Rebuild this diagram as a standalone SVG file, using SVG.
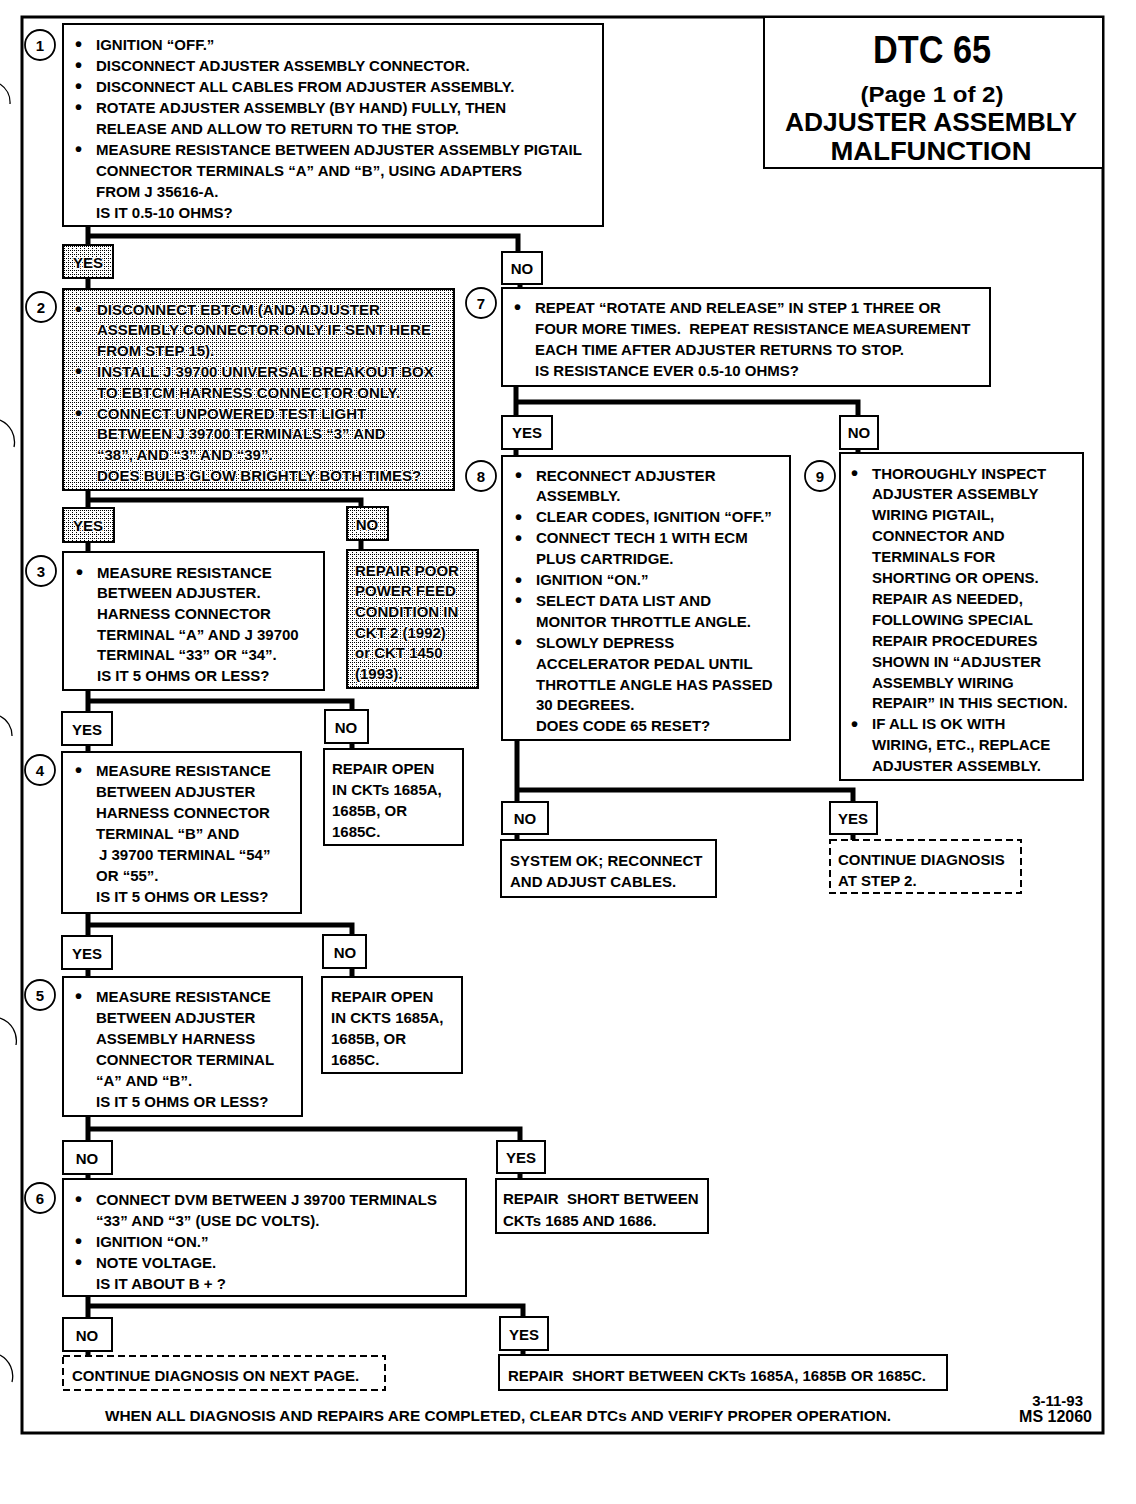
<svg xmlns="http://www.w3.org/2000/svg" width="1136" height="1504" viewBox="0 0 1136 1504">
<defs>
<pattern id="dots" width="4" height="4" patternUnits="userSpaceOnUse"><rect width="4" height="4" fill="#fff"/><rect x="0" y="0" width="1" height="1" fill="#000"/><rect x="2" y="2" width="1" height="1" fill="#000"/><rect x="0" y="2" width="1" height="1" fill="#000"/></pattern>
</defs>
<style>
.box{fill:#fff;stroke:#000;stroke-width:2}
.shade{fill:url(#dots);stroke:#000;stroke-width:2}
.dash{fill:#fff;stroke:#000;stroke-width:2;stroke-dasharray:7 4}
.num{fill:#fff;stroke:#000;stroke-width:1.8}
text{font-family:"Liberation Sans",Arial,sans-serif;font-weight:bold;font-size:15px;fill:#000}
.sh text{stroke:#fff;stroke-width:2.2px;paint-order:stroke;stroke-linejoin:round}
.b{font-size:20px}
.c{text-anchor:middle}
.conn{stroke:#000;stroke-width:5;fill:none}
.hole{stroke:#000;stroke-width:1.3;fill:none}
</style>
<rect width="1136" height="1504" fill="#fff"/>
<g id="frame">
<rect x="22" y="17" width="1081" height="1416" fill="none" stroke="#000" stroke-width="3"/>
<path class="hole" d="M0 84 A22 22 0 0 1 10 104"/>
<path class="hole" d="M0 420 A24 24 0 0 1 14 447"/>
<path class="hole" d="M0 716 A22 22 0 0 1 12 736"/>
<path class="hole" d="M0 1018 A24 24 0 0 1 16 1045"/>
<path class="hole" d="M0 1355 A24 24 0 0 1 12 1382"/>
</g>
<g id="title">
<rect x="764" y="17" width="339" height="151" fill="#fff" stroke="#000" stroke-width="2"/>
<text class="c" x="932" y="63" style="font-size:38px" textLength="118" lengthAdjust="spacingAndGlyphs">DTC 65</text>
<text class="c" x="932" y="102" style="font-size:22px" textLength="143" lengthAdjust="spacingAndGlyphs">(Page 1 of 2)</text>
<text class="c" x="931" y="131" style="font-size:26px" textLength="292" lengthAdjust="spacingAndGlyphs">ADJUSTER ASSEMBLY</text>
<text class="c" x="931" y="160" style="font-size:26px" textLength="201" lengthAdjust="spacingAndGlyphs">MALFUNCTION</text>
</g>
<g id="connectors">
<path class="conn" d="M88 226V245M88 236H518V252M88 278V289M520 284V288"/>
<path class="conn" d="M516 386V416M516 402H858V416M516 449V456M858 449V453"/>
<path class="conn" d="M517 740V802M517 790H853V802M517 834V840M853 834V840"/>
<path class="conn" d="M88 490V508M88 500H361V507M88 542V552M361 540V550"/>
<path class="conn" d="M88 690V712M88 701H352V710M88 745V752M352 743V749"/>
<path class="conn" d="M88 913V936M88 925H352V935M88 969V977M352 968V977"/>
<path class="conn" d="M88 1116V1141M88 1129H520V1141M88 1174V1179M520 1173V1179"/>
<path class="conn" d="M88 1296V1318M88 1306H523V1317M88 1351V1356M523 1350V1355"/>
</g>
<g id="step1">
<rect class="box" x="63" y="24" width="540" height="202"/>
<circle class="num" cx="40" cy="45" r="15"/><text class="c" x="40" y="50.5">1</text>
<text class="b" x="75" y="51">•</text><text x="96" y="49.5">IGNITION “OFF.”</text>
<text class="b" x="75" y="72">•</text><text x="96" y="70.5">DISCONNECT ADJUSTER ASSEMBLY CONNECTOR.</text>
<text class="b" x="75" y="93">•</text><text x="96" y="91.5">DISCONNECT ALL CABLES FROM ADJUSTER ASSEMBLY.</text>
<text class="b" x="75" y="114">•</text><text x="96" y="112.5">ROTATE ADJUSTER ASSEMBLY (BY HAND) FULLY, THEN</text>
<text x="96" y="133.5">RELEASE AND ALLOW TO RETURN TO THE STOP.</text>
<text class="b" x="75" y="156">•</text><text x="96" y="154.5">MEASURE RESISTANCE BETWEEN ADJUSTER ASSEMBLY PIGTAIL</text>
<text x="96" y="175.5">CONNECTOR TERMINALS “A” AND “B”, USING ADAPTERS</text>
<text x="96" y="196.5">FROM J 35616-A.</text>
<text x="96" y="217.5">IS IT 0.5-10 OHMS?</text>
</g>
<g id="label1yes" class="sh"><rect class="shade" x="63" y="245" width="50" height="33"/><text class="c" x="88" y="268">YES</text></g>
<g id="label1no"><rect class="box" x="502" y="252" width="40" height="32"/><text class="c" x="522" y="273.5">NO</text></g>
<g id="step2" class="sh">
<rect class="shade" x="63" y="289" width="391" height="201"/>
<circle class="num" cx="41" cy="307" r="15"/><text class="c" x="41" y="312.5">2</text>
<text class="b" x="75" y="316">•</text><text x="97" y="314.5">DISCONNECT EBTCM (AND ADJUSTER</text>
<text x="97" y="335.3">ASSEMBLY CONNECTOR ONLY IF SENT HERE</text>
<text x="97" y="356.1">FROM STEP 15).</text>
<text class="b" x="75" y="378.4">•</text><text x="97" y="376.9">INSTALL J 39700 UNIVERSAL BREAKOUT BOX</text>
<text x="97" y="397.7">TO EBTCM HARNESS CONNECTOR ONLY.</text>
<text class="b" x="75" y="420">•</text><text x="97" y="418.5">CONNECT UNPOWERED TEST LIGHT</text>
<text x="97" y="439.3">BETWEEN J 39700 TERMINALS “3” AND</text>
<text x="97" y="460.1">“38”, AND “3” AND “39”.</text>
<text x="97" y="480.9">DOES BULB GLOW BRIGHTLY BOTH TIMES?</text>
</g>
<g id="step7">
<rect class="box" x="502" y="288" width="488" height="98"/>
<circle class="num" cx="481" cy="303" r="15"/><text class="c" x="481" y="308.5">7</text>
<text class="b" x="514" y="314">•</text><text x="535" y="312.5">REPEAT “ROTATE AND RELEASE” IN STEP 1 THREE OR</text>
<text x="535" y="333.5">FOUR MORE TIMES.&#160; REPEAT RESISTANCE MEASUREMENT</text>
<text x="535" y="354.5">EACH TIME AFTER ADJUSTER RETURNS TO STOP.</text>
<text x="535" y="375.5">IS RESISTANCE EVER 0.5-10 OHMS?</text>
</g>
<g id="label7yes"><rect class="box" x="502" y="416" width="50" height="33"/><text class="c" x="527" y="438">YES</text></g>
<g id="label7no"><rect class="box" x="840" y="416" width="38" height="33"/><text class="c" x="859" y="438">NO</text></g>
<g id="step8">
<rect class="box" x="502" y="456" width="288" height="284"/>
<circle class="num" cx="481" cy="476" r="15"/><text class="c" x="481" y="481.5">8</text>
<text class="b" x="515" y="482">•</text><text x="536" y="480.5">RECONNECT ADJUSTER</text>
<text x="536" y="501.4">ASSEMBLY.</text>
<text class="b" x="515" y="523.8">•</text><text x="536" y="522.3">CLEAR CODES, IGNITION “OFF.”</text>
<text class="b" x="515" y="544.7">•</text><text x="536" y="543.2">CONNECT TECH 1 WITH ECM</text>
<text x="536" y="564.1">PLUS CARTRIDGE.</text>
<text class="b" x="515" y="586.5">•</text><text x="536" y="585">IGNITION “ON.”</text>
<text class="b" x="515" y="607.4">•</text><text x="536" y="605.9">SELECT DATA LIST AND</text>
<text x="536" y="626.8">MONITOR THROTTLE ANGLE.</text>
<text class="b" x="515" y="649.2">•</text><text x="536" y="647.7">SLOWLY DEPRESS</text>
<text x="536" y="668.6">ACCELERATOR PEDAL UNTIL</text>
<text x="536" y="689.5">THROTTLE ANGLE HAS PASSED</text>
<text x="536" y="710.4">30 DEGREES.</text>
<text x="536" y="731.3">DOES CODE 65 RESET?</text>
</g>
<g id="step9">
<rect class="box" x="840" y="453" width="243" height="327"/>
<circle class="num" cx="820" cy="476" r="15"/><text class="c" x="820" y="481.5">9</text>
<text class="b" x="851" y="480">•</text><text x="872" y="478.5">THOROUGHLY INSPECT</text>
<text x="872" y="499.4">ADJUSTER ASSEMBLY</text>
<text x="872" y="520.3">WIRING PIGTAIL,</text>
<text x="872" y="541.2">CONNECTOR AND</text>
<text x="872" y="562.1">TERMINALS FOR</text>
<text x="872" y="583">SHORTING OR OPENS.</text>
<text x="872" y="603.9">REPAIR AS NEEDED,</text>
<text x="872" y="624.8">FOLLOWING SPECIAL</text>
<text x="872" y="645.7">REPAIR PROCEDURES</text>
<text x="872" y="666.6">SHOWN IN “ADJUSTER</text>
<text x="872" y="687.5">ASSEMBLY WIRING</text>
<text x="872" y="708.4">REPAIR” IN THIS SECTION.</text>
<text class="b" x="851" y="730.8">•</text><text x="872" y="729.3">IF ALL IS OK WITH</text>
<text x="872" y="750.2">WIRING, ETC., REPLACE</text>
<text x="872" y="771.1">ADJUSTER ASSEMBLY.</text>
</g>
<g id="label8no"><rect class="box" x="502" y="802" width="46" height="32"/><text class="c" x="525" y="823.5">NO</text></g>
<g id="label8yes"><rect class="box" x="830" y="802" width="47" height="32"/><text class="c" x="853" y="823.5">YES</text></g>
<g id="systemok">
<rect class="box" x="501" y="840" width="215" height="57"/>
<text x="510" y="865.5">SYSTEM OK; RECONNECT</text>
<text x="510" y="886.5">AND ADJUST CABLES.</text>
</g>
<g id="continue2">
<rect class="dash" x="830" y="840" width="191" height="53"/>
<text x="838" y="865">CONTINUE DIAGNOSIS</text>
<text x="838" y="886">AT STEP 2.</text>
</g>
<g id="label2yes" class="sh"><rect class="shade" x="63" y="508" width="51" height="34"/><text class="c" x="88" y="530.5">YES</text></g>
<g id="label2no" class="sh"><rect class="shade" x="347" y="507" width="41" height="33"/><text class="c" x="367" y="529.5">NO</text></g>
<g id="step3">
<rect class="box" x="63" y="552" width="261" height="138"/>
<circle class="num" cx="41" cy="571" r="15"/><text class="c" x="41" y="576.5">3</text>
<text class="b" x="76" y="579">•</text><text x="97" y="577.5">MEASURE RESISTANCE</text>
<text x="97" y="598.2">BETWEEN ADJUSTER.</text>
<text x="97" y="618.9">HARNESS CONNECTOR</text>
<text x="97" y="639.6">TERMINAL “A” AND J 39700</text>
<text x="97" y="660.3">TERMINAL “33” OR “34”.</text>
<text x="97" y="681">IS IT 5 OHMS OR LESS?</text>
</g>
<g id="repairpower" class="sh">
<rect class="shade" x="347" y="550" width="131" height="138"/>
<text x="355" y="575.5">REPAIR POOR</text>
<text x="355" y="596.2">POWER FEED</text>
<text x="355" y="616.9">CONDITION IN</text>
<text x="355" y="637.6">CKT 2 (1992)</text>
<text x="355" y="658.3">or CKT 1450</text>
<text x="355" y="679">(1993).</text>
</g>
<g id="label3yes"><rect class="box" x="62" y="712" width="50" height="33"/><text class="c" x="87" y="734.5">YES</text></g>
<g id="label3no"><rect class="box" x="325" y="710" width="43" height="33"/><text class="c" x="346" y="732.5">NO</text></g>
<g id="step4">
<rect class="box" x="62" y="752" width="239" height="161"/>
<circle class="num" cx="40" cy="770" r="15"/><text class="c" x="40" y="775.5">4</text>
<text class="b" x="75" y="777">•</text><text x="96" y="775.5">MEASURE RESISTANCE</text>
<text x="96" y="796.5">BETWEEN ADJUSTER</text>
<text x="96" y="817.5">HARNESS CONNECTOR</text>
<text x="96" y="838.5">TERMINAL “B” AND</text>
<text x="99" y="859.5">J 39700 TERMINAL “54”</text>
<text x="96" y="880.5">OR “55”.</text>
<text x="96" y="901.5">IS IT 5 OHMS OR LESS?</text>
</g>
<g id="repairopen1">
<rect class="box" x="324" y="749" width="139" height="96"/>
<text x="332" y="773.5">REPAIR OPEN</text>
<text x="332" y="794.5">IN CKTs 1685A,</text>
<text x="332" y="815.5">1685B, OR</text>
<text x="332" y="836.5">1685C.</text>
</g>
<g id="label4yes"><rect class="box" x="62" y="936" width="50" height="33"/><text class="c" x="87" y="958.5">YES</text></g>
<g id="label4no"><rect class="box" x="323" y="935" width="43" height="33"/><text class="c" x="345" y="957.5">NO</text></g>
<g id="step5">
<rect class="box" x="63" y="977" width="239" height="139"/>
<circle class="num" cx="40" cy="995" r="15"/><text class="c" x="40" y="1000.5">5</text>
<text class="b" x="75" y="1003">•</text><text x="96" y="1001.5">MEASURE RESISTANCE</text>
<text x="96" y="1022.5">BETWEEN ADJUSTER</text>
<text x="96" y="1043.5">ASSEMBLY HARNESS</text>
<text x="96" y="1064.5">CONNECTOR TERMINAL</text>
<text x="96" y="1085.5">“A” AND “B”.</text>
<text x="96" y="1106.5">IS IT 5 OHMS OR LESS?</text>
</g>
<g id="repairopen2">
<rect class="box" x="322" y="977" width="140" height="96"/>
<text x="331" y="1001.5">REPAIR OPEN</text>
<text x="331" y="1022.5">IN CKTS 1685A,</text>
<text x="331" y="1043.5">1685B, OR</text>
<text x="331" y="1064.5">1685C.</text>
</g>
<g id="label5no"><rect class="box" x="63" y="1141" width="49" height="33"/><text class="c" x="87" y="1163.5">NO</text></g>
<g id="label5yes"><rect class="box" x="497" y="1141" width="48" height="32"/><text class="c" x="521" y="1162.5">YES</text></g>
<g id="step6">
<rect class="box" x="63" y="1179" width="403" height="117"/>
<circle class="num" cx="40" cy="1198" r="15"/><text class="c" x="40" y="1203.5">6</text>
<text class="b" x="75" y="1206">•</text><text x="96" y="1204.5">CONNECT DVM BETWEEN J 39700 TERMINALS</text>
<text x="96" y="1225.5">“33” AND “3” (USE DC VOLTS).</text>
<text class="b" x="75" y="1248">•</text><text x="96" y="1246.5">IGNITION “ON.”</text>
<text class="b" x="75" y="1269">•</text><text x="96" y="1267.5">NOTE VOLTAGE.</text>
<text x="96" y="1288.5">IS IT ABOUT B + ?</text>
</g>
<g id="repairshort1">
<rect class="box" x="496" y="1179" width="212" height="54"/>
<text x="503" y="1203.5">REPAIR&#160; SHORT BETWEEN</text>
<text x="503" y="1225.5">CKTs 1685 AND 1686.</text>
</g>
<g id="label6no"><rect class="box" x="63" y="1318" width="49" height="33"/><text class="c" x="87" y="1340.5">NO</text></g>
<g id="label6yes"><rect class="box" x="500" y="1317" width="48" height="33"/><text class="c" x="524" y="1339.5">YES</text></g>
<g id="continuenext">
<rect class="dash" x="63" y="1356" width="322" height="34"/>
<text x="72" y="1380.5">CONTINUE DIAGNOSIS ON NEXT PAGE.</text>
</g>
<g id="repairshort2">
<rect class="box" x="499" y="1355" width="448" height="35"/>
<text x="508" y="1380.5">REPAIR&#160; SHORT BETWEEN CKTs 1685A, 1685B OR 1685C.</text>
</g>
<g id="footer">
<text x="105" y="1421" textLength="786" lengthAdjust="spacingAndGlyphs">WHEN ALL DIAGNOSIS AND REPAIRS ARE COMPLETED, CLEAR DTCs AND VERIFY PROPER OPERATION.</text>
<text x="1083" y="1406" style="text-anchor:end">3-11-93</text>
<text x="1092" y="1422" style="text-anchor:end;font-size:16px">MS 12060</text>
</g>
</svg>
